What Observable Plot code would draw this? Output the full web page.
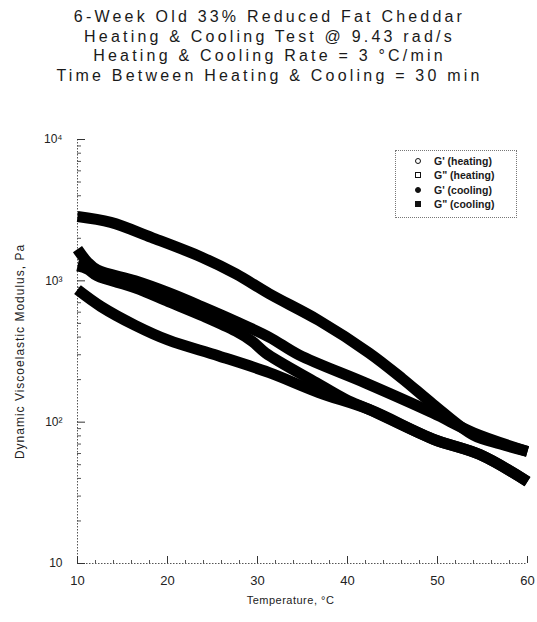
<!DOCTYPE html>
<html>
<head>
<meta charset="utf-8">
<script src="https://cdn.jsdelivr.net/npm/d3@7"></script>
<script src="https://cdn.jsdelivr.net/npm/@observablehq/plot@0.6"></script>
<style>
  html, body { margin: 0; padding: 0; background: #fff; }
  body { width: 537px; height: 622px; position: relative; overflow: hidden; font-family: "Liberation Sans", Arial, sans-serif; color: #1a1a1a; }
  #title { height: 100px; text-align: center; font-size: 16px; letter-spacing: 3.2px; line-height: 19.5px; padding-top: 7px; box-sizing: border-box; padding-left: 2px; }
  #title div { white-space: nowrap; }
  #legend { position: absolute; left: 395px; top: 150px; width: 122px; height: 68px; border: 1px dotted #777; box-sizing: border-box; font-size: 10.5px; font-weight: bold; }
  .row { position: absolute; left: 0; height: 12px; }
  .mk { position: absolute; left: 19px; width: 6px; height: 6px; box-sizing: border-box; border: 1.5px solid #111; }
  .lbl { position: absolute; left: 38px; white-space: nowrap; }
</style>
</head>
<body>
<div id="title">
  <div>6-Week Old 33% Reduced Fat Cheddar</div>
  <div>Heating &amp; Cooling Test @ 9.43 rad/s</div>
  <div>Heating &amp; Cooling Rate = 3 °C/min</div>
  <div>Time Between Heating &amp; Cooling = 30 min</div>
</div>
<div id="chart"></div>
<div id="legend"></div>
<script>
// ---- data ----
const seriesNames = ["G' (heating)", "G\" (heating)", "G' (cooling)", "G\" (cooling)"];

const gpHeatT  = [10, 13.7, 18.2, 23.8, 27.6, 31.3, 36.8, 42.4, 46.1, 49.5, 54.0, 57.0, 60];
const gpHeat   = [2850, 2590, 2030, 1470, 1120, 810, 525, 309, 203, 134, 81, 70, 62];

const gppHeatT = [10, 12.6, 16.4, 20.1, 25.7, 31.3, 36.8, 42.4, 49.5, 54.7, 60];
const gppHeat  = [865, 658, 484, 380, 294, 224, 162, 123, 76, 59, 38];

const gpCoolT  = [10, 11.1, 12.2, 16.4, 20.1, 23.8, 27.6, 31.3, 34.6, 42.1, 49.5, 54.0, 60];
const gpCool   = [1675, 1358, 1194, 1000, 824, 658, 516, 399, 299, 188, 116, 84, 62];

const gppCoolT = [10, 11.1, 12.2, 16.4, 20.1, 23.8, 27.6, 29.4, 30.9, 36.5, 39.8, 42.4, 49.5, 54.7, 60];
const gppCool  = [1274, 1213, 1084, 893, 713, 569, 440, 374, 309, 191, 145, 123, 76, 59, 38];

const xTicks = [10, 20, 30, 40, 50, 60];
const xMinor = [12, 14, 16, 18, 22, 24, 26, 28, 32, 34, 36, 38, 42, 44, 46, 48, 52, 54, 56, 58];
const yTicks = [10, 100, 1000, 10000];
const yTickLabels = ["10", "10²", "10³", "10⁴"];
const yMinor = [20, 30, 40, 50, 60, 70, 80, 90, 200, 300, 400, 500, 600, 700, 800, 900, 2000, 3000, 4000, 5000, 6000, 7000, 8000, 9000];

// ---- build table ----
const rows = [];
[[gpHeatT, gpHeat], [gppHeatT, gppHeat], [gpCoolT, gpCool], [gppCoolT, gppCool]].forEach(([ts, vs], i) => {
  ts.forEach((t, j) => rows.push({series: seriesNames[i], T: t, G: vs[j]}));
});

const W = 537, H = 522, mT = 39, mB = 59, mL = 77, mR = 10;
const pw = W - mL - mR, ph = H - mT - mB;

const chart = Plot.plot({
  width: W, height: H,
  marginTop: mT, marginBottom: mB, marginLeft: mL, marginRight: mR,
  style: {fontFamily: "Liberation Sans, Arial, sans-serif", color: "#222", background: "#fff"},
  x: {domain: [10, 60]},
  y: {type: "log", domain: [10, 10000]},
  marks: [
    Plot.ruleX([10], {stroke: "#555", strokeWidth: 1, strokeDasharray: "1.5,1.5"}),
    Plot.ruleY([10], {stroke: "#555", strokeWidth: 1, strokeDasharray: "1.5,1.5"}),
    Plot.ruleX(xTicks, {x: d => d, insetTop: ph - 7, stroke: "#333"}),
    Plot.ruleX(xMinor, {x: d => d, insetTop: ph - 3, stroke: "#555"}),
    Plot.ruleY(yTicks, {y: d => d, insetRight: pw - 8, stroke: "#333"}),
    Plot.ruleY(yMinor, {y: d => d, insetRight: pw - 4, stroke: "#555"}),
    Plot.axisX(xTicks, {tickSize: 0, tickPadding: 12, fontSize: 13, label: "Temperature, °C", labelAnchor: "center", labelOffset: 40, labelArrow: false}),
    Plot.axisY(yTicks, {tickSize: 0, tickPadding: 15, fontSize: 12, tickFormat: (d) => yTickLabels[yTicks.indexOf(d)], label: "Dynamic Viscoelastic Modulus, Pa", labelAnchor: "center", labelOffset: 62, labelArrow: false}),
    Plot.line(rows, {x: "T", y: "G", z: "series", stroke: "#000", strokeWidth: 11, curve: "catmull-rom", strokeLinecap: "butt", strokeLinejoin: "round"})
  ]
});
document.getElementById("chart").appendChild(chart);
// label styling
d3.select(chart).selectAll("[aria-label='y-axis label'] text")
  .style("font-size", "12px").style("letter-spacing", "1px");
d3.select(chart).selectAll("[aria-label='x-axis label'] text")
  .style("font-size", "11px").style("letter-spacing", "0.5px").attr("dx", -12);

// ---- legend ----
const legend = document.getElementById("legend");
const rowTops = [4, 18, 33, 47];
const shapes = [
  {round: true, fill: false}, {round: false, fill: false},
  {round: true, fill: true}, {round: false, fill: true}
];
seriesNames.forEach((name, i) => {
  const r = document.createElement("div");
  r.className = "row";
  r.style.top = rowTops[i] + "px";
  const m = document.createElement("div");
  m.className = "mk";
  m.style.top = "3px";
  if (shapes[i].round) m.style.borderRadius = "50%";
  if (shapes[i].fill) m.style.background = "#111";
  const t = document.createElement("div");
  t.className = "lbl";
  t.style.top = "0px";
  t.textContent = name;
  r.appendChild(m); r.appendChild(t);
  legend.appendChild(r);
});
</script>
</body>
</html>
